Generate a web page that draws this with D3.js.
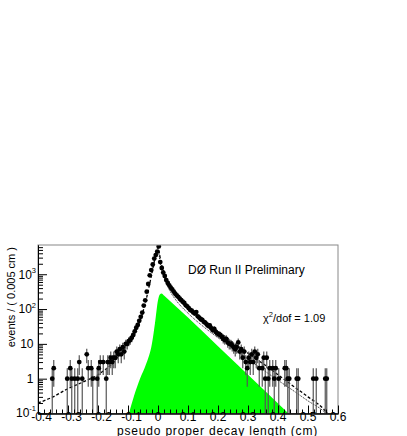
<!DOCTYPE html>
<html>
  <head>
    <meta charset="utf-8" />
    <script src="https://d3js.org/d3.v7.min.js"></script>
    <title>pseudo proper decay length</title>
    <style>
        body { margin: 0; background: #fff; }
        text { font-family: "Liberation Sans", Arial, sans-serif; fill: #000; }
    </style>
  </head>
  <body>

    <svg id="chart" width="407" height="436"></svg>

    <script>
    // data points (bin centres, cm) and events per 0.005 cm bin
        var decayLength = [
            -0.3525, -0.3475, -0.3025, -0.2925, -0.2875, -0.2775, -0.2675, -0.2625, -0.2525, -0.2375,
            -0.2325, -0.2225, -0.2175, -0.2025, -0.1975, -0.1925, -0.1825, -0.1725, -0.1675, -0.1625,
            -0.1575, -0.1525, -0.1475, -0.1425, -0.1375, -0.1325, -0.1275, -0.1225, -0.1175, -0.1125,
            -0.1075, -0.1025, -0.0975, -0.0925, -0.0875, -0.0825, -0.0775, -0.0725, -0.0675, -0.0625,
            -0.0575, -0.0525, -0.0475, -0.0425, -0.0375, -0.0325, -0.0275, -0.0225, -0.0175, -0.0125,
            -0.0075, -0.0025,
            0.0025, 0.0075, 0.0125, 0.0175, 0.0225, 0.0275, 0.0325, 0.0375, 0.0425, 0.0475,
            0.0525, 0.0575, 0.0625, 0.0675, 0.0725, 0.0775, 0.0825, 0.0875, 0.0925, 0.0975,
            0.1025, 0.1075, 0.1125, 0.1175, 0.1225, 0.1275, 0.1325, 0.1375, 0.1425, 0.1475,
            0.1525, 0.1575, 0.1625, 0.1675, 0.1725, 0.1775, 0.1825, 0.1875, 0.1925, 0.1975,
            0.2025, 0.2075, 0.2125, 0.2175, 0.2225, 0.2275, 0.2325, 0.2375, 0.2425, 0.2475,
            0.2525, 0.2575, 0.2625, 0.2675, 0.2725, 0.2775, 0.2825, 0.2875, 0.2925, 0.2975,
            0.3025, 0.3075, 0.3125, 0.3175, 0.3225, 0.3275, 0.3325, 0.3375, 0.3475, 0.3525,
            0.3575, 0.3625, 0.3675, 0.3725, 0.3825, 0.3875, 0.3925, 0.4025, 0.4225, 0.4275,
            0.4325, 0.4375, 0.4625, 0.4675, 0.5175, 0.5275, 0.5575, 0.5625
        ];
        var events = [
            1, 2, 1, 2, 1, 1, 1, 3, 1, 5,
            2, 2, 1, 1, 2, 3, 3, 1, 3, 3,
            4, 3, 4, 4, 6, 5, 7, 5, 8, 6,
            10, 10, 12, 13, 15, 18, 23, 29, 35, 46,
            60, 79, 126, 178, 316, 525, 933, 1318, 1905, 2818,
            3548, 4467,
            6300, 2240, 1510, 1120, 890, 680, 560, 480, 410, 365,
            315, 275, 245, 225, 198, 180, 162, 150, 128, 120,
            106, 94, 90, 80, 74, 82, 62, 57, 51, 49,
            43, 41, 36, 33, 34, 28, 25, 27, 22, 20,
            19, 18, 16, 14, 13, 14, 11, 10, 10, 9,
            8, 7, 8, 11, 6, 7, 4, 6, 3, 2,
            4, 3, 5, 3, 6, 4, 5, 2, 2, 4,
            1, 4, 1, 2, 2, 1, 2, 1, 2, 2,
            1, 1, 1, 1, 1, 1, 1, 1
        ];

        // total fit (dashed)
        var totalFitX = [-0.4, -0.35, -0.3, -0.25, -0.2, -0.15, -0.115, -0.08, -0.06, -0.04, -0.02, -0.01, 0,
                         0.005, 0.01, 0.02, 0.04, 0.06, 0.1, 0.15, 0.2, 0.25, 0.3, 0.35, 0.4, 0.45, 0.5, 0.55, 0.565];
        var totalFitY = [0.2, 0.3, 0.52, 0.8, 1.3, 2.9, 7, 21, 45, 180, 1100, 2900, 6000,
                         3800, 2200, 1150, 480, 270, 115, 48, 23, 11, 5.4, 2.7, 1.3, 0.62, 0.3, 0.14, 0.1];

        // thin dotted component
        var compFitX = [0, 0.005, 0.01, 0.02, 0.04, 0.06, 0.1, 0.15, 0.2, 0.25, 0.3, 0.35, 0.4, 0.45, 0.5, 0.55, 0.56];
        var compFitY = [5600, 3000, 1700, 850, 330, 180, 76, 32, 15, 7.2, 3.6, 1.8, 0.9, 0.46, 0.23, 0.12, 0.1];

        // green filled component
        var greenX = [-0.097, -0.08, -0.06, -0.04, -0.02, -0.01, 0, 0.006, 0.012, 0.02, 0.1, 0.2, 0.3, 0.435];
        var greenY = [0.1, 0.32, 1, 2.6, 10.5, 40, 178, 263, 282, 245, 57, 8.5, 1.3, 0.1];

        var xTickLabels = ["-0.4", "-0.3", "-0.2", "-0.1", "0", "0.1", "0.2", "0.3", "0.4", "0.5", "0.6"];
        var yTickValues = [0.1, 1, 10, 100, 1000];
        var yTickBase = ["10", "1", "10", "10", "10"];
        var yTickSup = ["-1", "", "", "2", "3"];

        var frameL = 38, frameR = 338, frameT = 245, frameB = 413.5;

        var svg = d3.select("#chart");

        var x = d3.scaleLinear().domain([-0.4, 0.6]).range([frameL, frameR]);
        var y = d3.scaleLog().domain([0.1, Math.pow(10, 3.84)]).range([frameB, frameT]);

        svg.append("clipPath").attr("id", "frameClip")
            .append("rect")
            .attr("x", frameL).attr("y", frameT)
            .attr("width", frameR - frameL).attr("height", frameB - frameT);

        var plot = svg.append("g").attr("clip-path", "url(#frameClip)");

        // green area
        var greenPts = greenX.map(function(d, i){ return [d, greenY[i]]; });
        plot.append("path")
            .datum(greenPts)
            .attr("fill", "#00ff00")
            .attr("stroke", "none")
            .attr("d", d3.area()
                .x(function(d){ return x(d[0]); })
                .y0(frameB + 2)
                .y1(function(d){ return y(d[1]); })
                .curve(d3.curveMonotoneX));

        // fit lines
        var totalPts = totalFitX.map(function(d, i){ return [d, totalFitY[i]]; });
        var compPts = compFitX.map(function(d, i){ return [d, compFitY[i]]; });
        var line = d3.line()
            .x(function(d){ return x(d[0]); })
            .y(function(d){ return y(d[1]); })
            .curve(d3.curveMonotoneX);

        plot.append("path").datum(compPts)
            .attr("fill", "none").attr("stroke", "#000")
            .attr("stroke-width", 0.9).attr("stroke-dasharray", "1,1")
            .attr("d", line);

        plot.append("path").datum(totalPts)
            .attr("fill", "none").attr("stroke", "#000")
            .attr("stroke-width", 1.3).attr("stroke-dasharray", "3,2")
            .attr("d", line);

        // data with sqrt(N) errors
        var points = decayLength.map(function(d, i){ return { x: d, n: events[i] }; });

        plot.selectAll("line.err")
            .data(points)
            .enter().append("line")
            .attr("class", "err")
            .attr("x1", function(d){ return x(d.x); })
            .attr("x2", function(d){ return x(d.x); })
            .attr("y1", function(d){
                var lo = d.n - Math.sqrt(d.n);
                return lo > 0.1 ? y(lo) : frameB + 2;
            })
            .attr("y2", function(d){ return y(d.n + Math.sqrt(d.n)); })
            .attr("stroke", "#555")
            .attr("stroke-width", 1.2);

        plot.selectAll("circle.pt")
            .data(points)
            .enter().append("circle")
            .attr("class", "pt")
            .attr("cx", function(d){ return x(d.x); })
            .attr("cy", function(d){ return y(d.n); })
            .attr("r", 2.4)
            .attr("fill", "#000");

        // frame
        svg.append("rect")
            .attr("x", frameL).attr("y", frameT)
            .attr("width", frameR - frameL).attr("height", frameB - frameT)
            .attr("fill", "none").attr("stroke", "#888").attr("stroke-width", 1);

        // x axis
        var xMajor = d3.range(11).map(function(i){ return -0.4 + i * 0.1; });
        var xMinor = d3.range(51).map(function(i){ return -0.4 + i * 0.02; });

        svg.append("g")
            .attr("transform", "translate(0," + frameB + ")")
            .call(d3.axisBottom(x).tickValues(xMinor).tickSize(-4).tickSizeOuter(0).tickFormat(""))
            .call(function(g){ g.selectAll("line").attr("stroke", "#000"); });

        svg.append("g")
            .attr("transform", "translate(0," + frameB + ")")
            .call(d3.axisBottom(x).tickValues(xMajor).tickSize(-8).tickSizeOuter(0).tickFormat(""))
            .call(function(g){ g.select(".domain").attr("stroke", "#000"); });

        svg.selectAll("text.xlab")
            .data(xTickLabels)
            .enter().append("text")
            .attr("class", "xlab")
            .attr("x", function(d, i){ return x(xMajor[i]) + (d.charAt(0) === "-" ? 3.5 : 0); })
            .attr("y", 421)
            .attr("text-anchor", "middle")
            .attr("font-size", 12)
            .text(function(d){ return d; });

        svg.append("text")
            .attr("x", 318)
            .attr("y", 434.5)
            .attr("text-anchor", "end")
            .attr("font-size", 12)
            .attr("letter-spacing", 0.8)
            .text("pseudo proper decay length  (cm)");

        // y axis
        var yMinor = [];
        [0.1, 1, 10, 100, 1000].forEach(function(dec){
            for (var k = 2; k <= 9; k++) {
                if (dec * k <= Math.pow(10, 3.84)) yMinor.push(dec * k);
            }
        });

        svg.append("g")
            .attr("transform", "translate(" + frameL + ",0)")
            .call(d3.axisLeft(y).tickValues(yMinor).tickSize(-5).tickSizeOuter(0).tickFormat(""));

        svg.append("g")
            .attr("transform", "translate(" + frameL + ",0)")
            .call(d3.axisLeft(y).tickValues(yTickValues).tickSize(-9).tickSizeOuter(0).tickFormat(""))
            .call(function(g){ g.select(".domain").attr("stroke", "#000"); });

        // tick labels with exponents
        var ylab = svg.selectAll("text.ylab")
            .data(yTickValues)
            .enter().append("text")
            .attr("class", "ylab")
            .attr("x", function(d, i){ return yTickSup[i] ? 36 : 33.5; })
            .attr("y", function(d){ return y(d) + (d < 1 ? 3 : 4.3); })
            .attr("text-anchor", "end")
            .attr("font-size", 12);

        ylab.append("tspan").text(function(d, i){ return yTickBase[i]; });
        ylab.filter(function(d, i){ return yTickSup[i] !== ""; })
            .append("tspan")
            .attr("font-size", 7.5)
            .attr("dy", -5.8)
            .text(function(d){ return yTickSup[yTickValues.indexOf(d)]; });

        svg.append("text")
            .attr("transform", "translate(14.5,247) rotate(-90)")
            .attr("text-anchor", "end")
            .attr("font-size", 11)
            .text("events / ( 0.005 cm )");

        // labels
        svg.append("text")
            .attr("x", 188)
            .attr("y", 273.5)
            .attr("font-size", 12)
            .text("D\u00D8  Run II Preliminary");

        var chi = svg.append("text")
            .attr("x", 263)
            .attr("y", 322)
            .attr("font-size", 11);
        chi.append("tspan").text("\u03C7");
        chi.append("tspan").attr("font-size", 7.5).attr("dy", -5).text("2");
        chi.append("tspan").attr("dy", 5).text("/dof = 1.09");

    </script>

  </body>
</html>
